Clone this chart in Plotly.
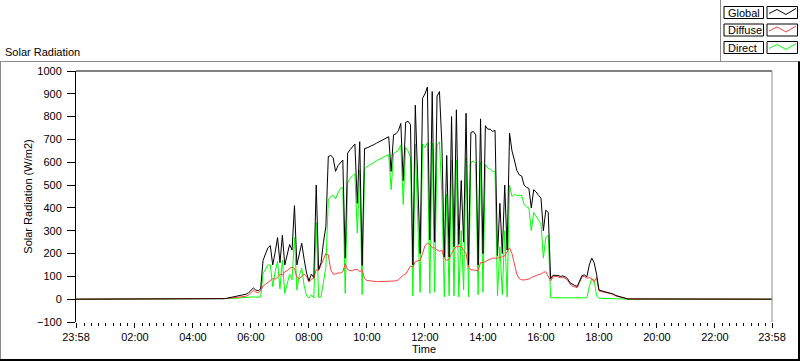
import plotly.graph_objects as go

# ---------------- data ----------------
# time in hours; chart spans 23:58 (previous day) to 23:58
t_start = -2 / 60
t_end = 23 + 58 / 60
# 5-minute samples from 05:00 to 19:00, plus the two night end points
sample_times = [t_start] + [5 + i * 5 / 60 for i in range(169)] + [t_end]

global_wm2 = [0,
    0, 2, 4, 6, 8, 10, 11, 13, 15, 18, 22, 28,            # 05:00-05:55
    38, 49, 40, 37, 45, 170, 198, 225, 235, 150, 205, 270,  # 06:00-06:55
    160, 280, 150, 200, 240, 215, 410, 150, 200, 245, 175, 115,  # 07:00-07:55
    80, 110, 95, 500, 130, 160, 250, 320, 625, 630, 620, 560,    # 08:00-08:55
    585, 600, 610, 180, 640, 655, 670, 680, 420, 690, 148, 660,  # 09:00-09:55
    663, 667, 672, 678, 684, 690, 695, 700, 708, 712, 560, 720,  # 10:00-10:55
    725, 738, 770, 520, 775, 780, 765, 150, 850, 520, 200, 880,  # 11:00-11:55
    900, 930, 260, 910, 250, 890, 910, 680, 185, 630, 185, 800,  # 12:00-12:55
    230, 830, 240, 520, 250, 815, 150, 730, 735, 720, 150, 790,  # 13:00-13:55
    200, 760, 745, 745, 735, 740, 190, 420, 200, 500, 215, 728,  # 14:00-14:55
    650, 610, 565, 545, 540, 500, 490, 485, 400, 480, 470, 455,  # 15:00-15:55
    443, 300, 390, 380, 90, 105, 106, 104, 100, 102, 98, 90,     # 16:00-16:55
    72, 64, 60, 56, 80, 104, 106, 98, 150, 180, 160, 110,        # 17:00-17:55
    40, 37, 35, 32, 30, 28, 22, 16, 13, 11, 7, 3,                # 18:00-18:55
    1,                                                           # 19:00
    0]

diffuse_wm2 = [0,
    0, 2, 3, 4, 5, 6, 6, 7, 8, 10, 13, 18,
    28, 39, 31, 29, 36, 58, 65, 72, 80, 90, 88, 95,
    110, 105, 120, 125, 135, 140, 135, 95, 90, 100, 110, 100,
    75, 88, 90, 130, 125, 150, 175, 200, 195, 130, 110, 110,
    115, 115, 120, 155, 130, 125, 125, 130, 130, 120, 128, 90,
    82, 80, 78, 78, 77, 77, 77, 77, 78, 78, 80, 80,
    80, 85, 95, 105, 110, 130, 145, 140, 165, 168, 170, 200,
    235, 245, 240, 225, 225, 215, 210, 215, 180, 170, 175, 200,
    220, 230, 230, 230, 215, 200, 140, 130, 128, 125, 125, 160,
    160, 165, 170, 175, 180, 180, 180, 185, 185, 190, 205, 225,
    200, 150, 110, 90, 85, 84, 85, 88, 95, 100, 105, 108,
    110, 118, 120, 100, 80, 98, 100, 98, 94, 96, 92, 84,
    66, 58, 54, 50, 74, 98, 100, 92, 95, 90, 75, 95,
    36, 33, 31, 28, 26, 25, 19, 14, 11, 9, 6, 3,
    1,
    0]

direct_wm2 = [0,
    0, 0, 1, 2, 3, 4, 5, 6, 7, 8, 9, 10,
    10, 10, 9, 8, 9, 112, 133, 150, 150, 55, 120, 165,
    45, 170, 25, 75, 110, 85, 270, 40, 105, 135, 60, 15,
    5, 20, 5, 335, 8, 10, 80, 140, 435, 450, 455, 440,
    465, 485, 490, 25, 510, 530, 540, 550, 290, 567, 20, 570,
    580, 588, 594, 600, 607, 613, 618, 623, 630, 634, 480, 640,
    645, 653, 675, 415, 665, 650, 620, 15, 680, 350, 30, 680,
    665, 685, 25, 685, 30, 675, 690, 460, 10, 460, 15, 610,
    15, 610, 10, 300, 40, 620, 10, 600, 605, 595, 20, 600,
    30, 590, 575, 570, 560, 560, 15, 230, 20, 300, 10, 500,
    450, 460, 455, 455, 455, 415, 405, 400, 300, 380, 365, 345,
    330, 180, 270, 280, 8, 6, 6, 6, 6, 6, 6, 6,
    6, 6, 6, 6, 6, 6, 6, 6, 55, 90, 85, 15,
    4, 4, 4, 4, 4, 3, 3, 2, 2, 2, 1, 0,
    0,
    0]

series_names = ["Global", "Diffuse", "Direct"]
series_colors = ["#000000", "#ff4040", "#00ff00"]

x_tick_vals = [t_start, 2, 4, 6, 8, 10, 12, 14, 16, 18, 20, 22, t_end]
x_tick_text = ["23:58", "02:00", "04:00", "06:00", "08:00", "10:00", "12:00",
               "14:00", "16:00", "18:00", "20:00", "22:00", "23:58"]
y_tick_vals = [-100, 0, 100, 200, 300, 400, 500, 600, 700, 800, 900, 1000]

# ---------------- layout helpers (pixel -> paper) ----------------
W, H = 800, 361
L, R, T, B = 76, 772, 71, 322


def px(x):
    return (x - L) / (R - L)


def py(y):
    return (B - y) / (B - T)


FONT = "Liberation Sans, Arial, sans-serif"
GRAY = "#8a8a8a"

fig = go.Figure()
values = {"Global": global_wm2, "Diffuse": diffuse_wm2, "Direct": direct_wm2}
# draw direct first, global last (on top)
for name, color in reversed(list(zip(series_names, series_colors))):
    fig.add_trace(go.Scatter(x=sample_times, y=values[name], mode="lines",
                             name=name, line=dict(color=color, width=1),
                             showlegend=False, hoverinfo="skip"))

shapes = []


def line(x0, y0, x1, y1, color, width=1):
    shapes.append(dict(type="line", xref="paper", yref="paper",
                       x0=px(x0), y0=py(y0), x1=px(x1), y1=py(y1),
                       line=dict(color=color, width=width)))


# outer frame
line(0, 61.5, 800, 61.5, GRAY)
line(0.5, 61.5, 0.5, 361, GRAY)
line(799, 61.5, 799, 361, "#000000", 2)
line(0, 360, 800, 360, "#000000", 2)
# plot area frame
line(L, T, R, T, "#000000")
line(R, T, R, B, GRAY)
# legend container
line(720.5, 0, 720.5, 61.5, GRAY)

annotations = []
row_tops = [6.5, 24, 41.5]
for i, (name, color) in enumerate(zip(series_names, series_colors)):
    top = row_tops[i]
    bot = top + 12
    shapes.append(dict(type="rect", xref="paper", yref="paper",
                       x0=px(724), x1=px(763.5), y0=py(bot), y1=py(top),
                       line=dict(color="#000000", width=1), fillcolor="white"))
    shapes.append(dict(type="rect", xref="paper", yref="paper",
                       x0=px(767), x1=px(797.5), y0=py(bot), y1=py(top),
                       line=dict(color="#000000", width=1), fillcolor="white"))
    zig = [(769, top + 7), (777, top + 3), (786, top + 8), (796, top + 2)]
    path = "M " + " L ".join(f"{px(a):.5f},{py(b):.5f}" for a, b in zig)
    shapes.append(dict(type="path", xref="paper", yref="paper", path=path,
                       line=dict(color=color, width=1)))
    annotations.append(dict(x=px(725.5), y=py(top + 6.3), xref="paper", yref="paper",
                            text=name, showarrow=False, xanchor="left",
                            yanchor="middle", font=dict(family=FONT, size=11, color="#000")))

annotations.append(dict(x=px(3), y=py(51.5), xref="paper", yref="paper",
                        text="Solar Radiation", showarrow=False, xanchor="left",
                        yanchor="middle", font=dict(family=FONT, size=11, color="#000")))

fig.update_layout(
    width=W, height=H,
    margin=dict(l=L, r=W - R, t=T, b=H - B, autoexpand=False),
    paper_bgcolor="white", plot_bgcolor="white",
    font=dict(family=FONT, size=11, color="#000000"),
    shapes=shapes, annotations=annotations,
    showlegend=False,
    xaxis=dict(range=[t_start, t_end], tickmode="array", tickvals=x_tick_vals,
               ticktext=x_tick_text, ticks="outside", ticklen=5, tickwidth=1,
               tickcolor="#000000", showgrid=False, zeroline=False, showline=False,
               automargin=False,
               minor=dict(tickmode="linear", tick0=0, dtick=0.25, ticks="outside",
                          ticklen=3, tickcolor="#000000", showgrid=False),
               title=dict(text="Time", standoff=3, font=dict(size=11)),
               tickfont=dict(size=11)),
    yaxis=dict(range=[-100, 1000], tickmode="array", tickvals=y_tick_vals,
               ticks="outside", ticklen=8, tickcolor="#000000", showgrid=False,
               zeroline=False, showline=True, linecolor="#000000", linewidth=1,
               automargin=False,
               title=dict(text="Solar Radiation (W/m2)", standoff=2, font=dict(size=11)),
               tickfont=dict(size=11), ticklabelstandoff=3),
)

fig.write_html("out.html", config={"displayModeBar": False},
               post_script="document.body.style.margin='0';document.body.style.overflow='hidden';")
